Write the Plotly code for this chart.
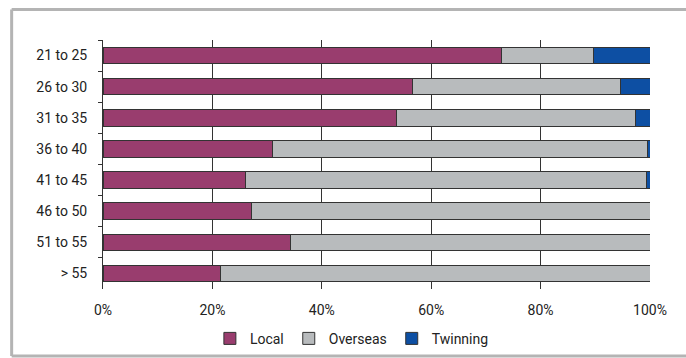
import plotly.graph_objects as go

categories = ["21 to 25", "26 to 30", "31 to 35", "36 to 40", "41 to 45", "46 to 50", "51 to 55", "> 55"]
local = [72.8, 56.6, 53.7, 30.9, 26.0, 27.1, 34.3, 21.5]
overseas = [16.8, 38.0, 43.7, 68.7, 73.4, 72.9, 65.7, 78.5]
twinning = [10.4, 5.4, 2.6, 0.4, 0.6, 0.0, 0.0, 0.0]
tick_vals = [0, 0.2, 0.4, 0.6, 0.8, 1.0]
tick_text = ["0%", "20%", "40%", "60%", "80%", "100%"]

FONT = "Roboto, Liberation Sans, sans-serif"
series = [("Local", local, "#993d6e"), ("Overseas", overseas, "#b8bbbd"), ("Twinning", twinning, "#0d4fa3")]

fig = go.Figure()
for name, vals, col in series:
    fig.add_trace(go.Bar(
        y=categories, x=[v / 100 for v in vals], name=name, orientation="h",
        marker=dict(color=col, line=dict(color="#333333", width=1)),
    ))

fig.update_layout(
    width=686, height=358,
    barmode="stack", bargap=0.47,
    paper_bgcolor="white", plot_bgcolor="white",
    margin=dict(l=103, r=36, t=40, b=69, autoexpand=False),
    font=dict(family=FONT, size=14, color="#222222"),
    showlegend=True,
    legend=dict(orientation="h", x=0.455, xanchor="center", y=-0.2, yanchor="middle",
                bgcolor="rgba(0,0,0,0)",
                font=dict(size=14), traceorder="normal", itemwidth=30),
    xaxis=dict(range=[0, 1], tickvals=tick_vals, ticktext=tick_text,
               showgrid=True, gridcolor="#333333", gridwidth=1,
               zeroline=False, showline=False, ticks="", ticklabelstandoff=11,
               fixedrange=True),
    yaxis=dict(autorange="reversed", showline=True, linecolor="#333333", linewidth=1,
               ticks="outside", tickson="boundaries", ticklen=4, tickcolor="#333333",
               ticklabelstandoff=12, showgrid=False, fixedrange=True),
    shapes=[
        dict(type="line", xref="paper", yref="paper", x0=-0.167, x1=1.2, y0=1.1225, y1=1.1225,
             line=dict(color="#b4b4b4", width=3)),
        dict(type="line", xref="paper", yref="paper", x0=-0.167, x1=-0.167, y0=1.1225, y1=-0.269,
             line=dict(color="#b4b4b4", width=3)),
        dict(type="line", xref="paper", yref="paper", x0=-0.167, x1=1.2, y0=-0.269, y1=-0.269,
             line=dict(color="#b4b4b4", width=3)),
    ],
)

fig.write_html("out.html")
